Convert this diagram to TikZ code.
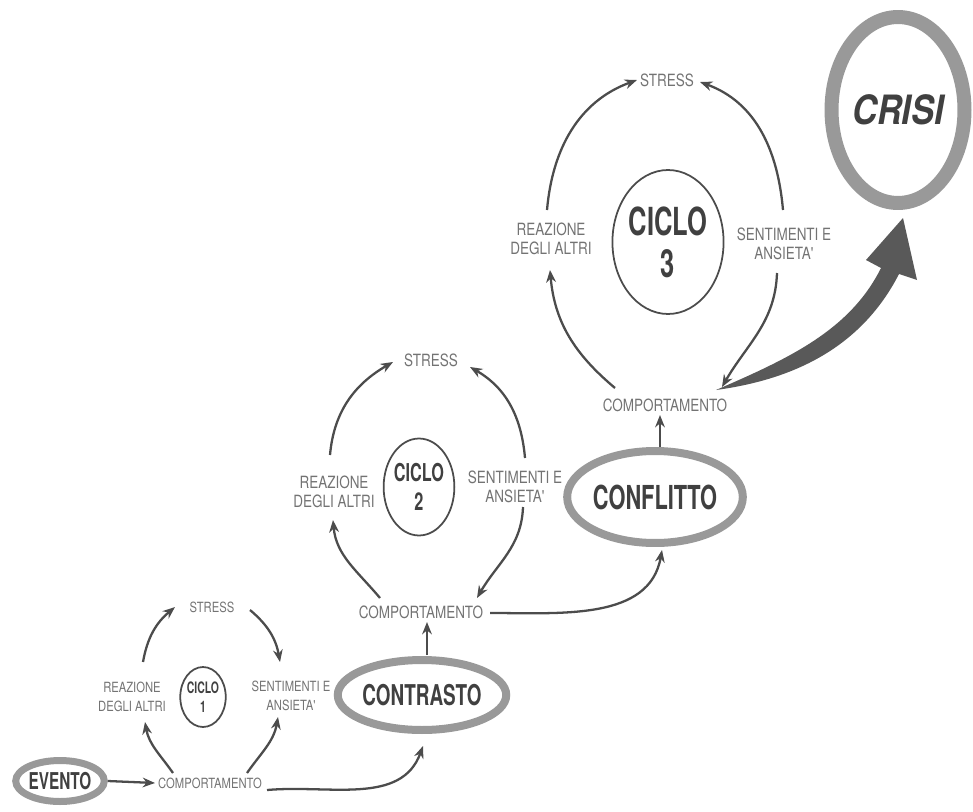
\documentclass[tikz,border=0pt]{standalone}
\usepackage{fontspec}
\newfontfamily\labfont[FakeStretch=0.8]{TeX Gyre Heros}
\newfontfamily\titfont[FakeStretch=0.66]{TeX Gyre Heros}
\newfontfamily\crisifont[FakeStretch=0.85]{TeX Gyre Heros}
\usetikzlibrary{shapes.geometric, arrows.meta}

\tikzset{
	lab/.style={font=\labfont\fontsize{8}{10.8}\selectfont, text=black!55, align=center, inner sep=1pt},
	labb/.style={lab, font=\labfont\fontsize{9.6}{11}\selectfont},
	ring/.style={ellipse, draw=black!40, text=black!75, inner sep=0pt},
	ciclo/.style={ellipse, draw=black!70, line width=1pt, text=black!75, inner sep=0pt, align=center},
	cyc/.style={draw=black!70, line width=1.3pt, -{Stealth[length=7pt,width=5.5pt]}},
}

\begin{document}
\begin{tikzpicture}[x=0.02cm, y=0.02cm]
	\useasboundingbox (0,0) rectangle (973,-811);
	% Big ellipses:
	\node[ring, line width=0.14cm, minimum width=1.74cm, minimum height=0.82cm, font=\titfont\bfseries\fontsize{13.2}{15}\selectfont] (evento) at (60,-781) {EVENTO};
	\node[ring, line width=0.16cm, minimum width=2.92cm, minimum height=1.4cm, font=\titfont\bfseries\fontsize{16.3}{18}\selectfont] (contrasto) at (422,-695) {CONTRASTO};
	\node[ring, line width=0.16cm, minimum width=3.08cm, minimum height=1.84cm, font=\titfont\bfseries\fontsize{18.8}{20}\selectfont] (conflitto) at (655,-497) {CONFLITTO};
	\node[ring, line width=0.28cm, minimum width=2.66cm, minimum height=3.72cm, font=\crisifont\bfseries\itshape\fontsize{23}{25}\selectfont] (crisi) at (898,-110) {CRISI};
	% Ciclo 1:
	\node[lab] (c1stress) at (212,-607) {STRESS};
	\node[lab] (c1reaz) at (132,-697) {REAZIONE\\DEGLI ALTRI};
	\node[ciclo, minimum width=0.8cm, minimum height=1.2cm, font=\titfont\bfseries\fontsize{9}{10.5}\selectfont] (c1ciclo) at (203,-697) {CICLO\\1};
	\node[lab] (c1sent) at (291,-696) {SENTIMENTI E\\ANSIETA'};
	\node[lab] (c1comp) at (210,-783) {COMPORTAMENTO};
	% Ciclo 2:
	\node[labb] (c2stress) at (431,-360) {STRESS};
	\node[labb] (c2reaz) at (334,-492) {REAZIONE\\DEGLI ALTRI};
	\node[ciclo, minimum width=1.04cm, minimum height=1.94cm, font=\titfont\bfseries\fontsize{14}{16.5}\selectfont] (c2ciclo) at (419,-487) {CICLO\\2};
	\node[labb] (c2sent) at (515,-487) {SENTIMENTI E\\ANSIETA'};
	\node[labb] (c2comp) at (421,-612) {COMPORTAMENTO};
	% Ciclo 3:
	\node[labb] (c3stress) at (667,-80) {STRESS};
	\node[labb] (c3reaz) at (551,-239) {REAZIONE\\DEGLI ALTRI};
	\node[ciclo, minimum width=2.04cm, minimum height=2.88cm, font=\titfont\bfseries\fontsize{22}{24}\selectfont] (c3ciclo) at (668,-242) {CICLO\\3};
	\node[labb] (c3sent) at (784,-244) {SENTIMENTI E\\ANSIETA'};
	\node[labb] (c3comp) at (665,-405) {COMPORTAMENTO};

	% Arrows of the cycles:
	\draw[cyc] ([shift={(-37,10)}]c1comp.center) to[out=125, in=-80] ([shift={(13,-25)}]c1reaz.center);
	\draw[cyc] ([shift={(11,35)}]c1reaz.center) to[out=80, in=220] ([shift={(-37,0)}]c1stress.center);
	\draw[cyc] ([shift={(38,-3)}]c1stress.center) to[out=-40, in=100] ([shift={(-11,34)}]c1sent.center);
	\draw[cyc] ([shift={(37,10)}]c1comp.center) to[out=55, in=-100] ([shift={(-13,-21)}]c1sent.center);

	\draw[cyc] ([shift={(-41,14)}]c2comp.center) to[out=130, in=-85] ([shift={(-1,-28)}]c2reaz.center);
	\draw[cyc] ([shift={(-4,37)}]c2reaz.center) to[out=85, in=210] ([shift={(-38,-2)}]c2stress.center);
	\draw[cyc] ([shift={(10,29)}]c2sent.center) to[out=95, in=-30] ([shift={(39,-7)}]c2stress.center);
	\draw[cyc] ([shift={(8,-20)}]c2sent.center) to[out=-92, in=60] ([shift={(56,14)}]c2comp.center);

	\draw[cyc] ([shift={(-50,17)}]c3comp.center) to[out=140, in=-85] ([shift={(-1,-31)}]c3reaz.center);
	\draw[cyc] ([shift={(-4,29)}]c3reaz.center) to[out=85, in=200] ([shift={(-30,0)}]c3stress.center);
	\draw[cyc] ([shift={(-1,34)}]c3sent.center) to[out=95, in=-20] ([shift={(33,-2)}]c3stress.center);
	\draw[cyc] ([shift={(-7,-29)}]c3sent.center) to[out=-92, in=60] ([shift={(57,18)}]c3comp.center);

	% Arrows between the stages:
	\draw[cyc] (evento.east) -- ([shift={(-55,0)}]c1comp.center);
	\draw[cyc] ([shift={(57,-7)}]c1comp.center) to[out=5, in=-110] ([shift={(1,-51)}]contrasto.center);
	\draw[cyc] ([shift={(5,40)}]contrasto.center) -- ([shift={(6,-10)}]c2comp.center);
	\draw[cyc] ([shift={(69,-1)}]c2comp.center) to[out=0, in=-100] ([shift={(7,-53)}]conflitto.center);
	\draw[cyc] ([shift={(5,50)}]conflitto.center) -- ([shift={(-5,-10)}]c3comp.center);

	% Big arrow to the crisis:
	\fill[black!65] ([shift={(51,15)}]c3comp.center) .. controls (790,-380) and (860,-350) .. (899,-274)
		-- (917,-280) -- ([shift={(5,-108)}]crisi.center) -- (866,-260) -- (881,-268)
		.. controls (850,-330) and (790,-358) .. ([shift={(51,15)}]c3comp.center) -- cycle;
\end{tikzpicture}
\end{document}
